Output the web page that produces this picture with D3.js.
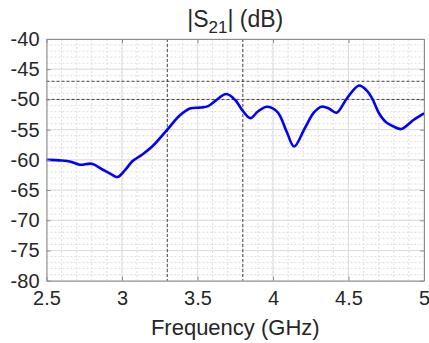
<!DOCTYPE html>
<html><head><meta charset="utf-8">
<script src="https://cdn.jsdelivr.net/npm/d3@7"></script>
<style>body{margin:0;background:#fff}svg{display:block}text{font-family:"Liberation Sans",Arial,sans-serif;fill:#262626}</style>
</head><body><svg id="c" width="429" height="343"></svg>
<script>
const freq = [2.5,2.6,2.66,2.72,2.8,2.87,2.93,2.97,3.02,3.07,3.13,3.2,3.3,3.38,3.45,3.52,3.57,3.62,3.69,3.75,3.8,3.85,3.9,3.96,4.03,4.09,4.14,4.21,4.27,4.32,4.37,4.42,4.49,4.57,4.62,4.66,4.7,4.75,4.8,4.85,4.93,5.0];
const s21 = [-60.0,-60.1,-60.3,-60.8,-60.65,-61.6,-62.4,-62.85,-61.7,-60.2,-59.2,-57.8,-55.0,-52.7,-51.5,-51.35,-51.1,-50.2,-49.1,-50.1,-51.9,-53.1,-52.0,-51.2,-52.1,-55.3,-57.8,-54.8,-52.2,-51.2,-51.5,-52.2,-49.8,-47.7,-48.5,-50.0,-52.2,-53.8,-54.5,-54.9,-53.4,-52.3];
const xTicks = [2.5,3,3.5,4,4.5,5];
const yTicks = [-80,-75,-70,-65,-60,-55,-50,-45,-40];
const markerX = [3.3,3.8];
const markerY = [-47,-50];

const svg = d3.select("#c");
const L=46.5,R=424,T=39,B=280.7;
const x = d3.scaleLinear().domain([2.5,5]).range([L,R]);
const y = d3.scaleLinear().domain([-80,-40]).range([B,T]);
const g = svg.append("g");
const minorX = d3.range(25,51).map(v=>v/10);
const minorY = d3.range(-80,-39);
g.selectAll(".mx").data(minorX).join("line").attr("x1",d=>x(d)).attr("x2",d=>x(d)).attr("y1",T).attr("y2",B)
 .attr("stroke","#d6d6d6").attr("stroke-width",0.8).attr("stroke-dasharray","2,2");
g.selectAll(".my").data(minorY).join("line").attr("y1",d=>y(d)).attr("y2",d=>y(d)).attr("x1",L).attr("x2",R)
 .attr("stroke","#d6d6d6").attr("stroke-width",0.8).attr("stroke-dasharray","2,2");
g.selectAll(".gx").data(xTicks).join("line").attr("x1",d=>x(d)).attr("x2",d=>x(d)).attr("y1",T).attr("y2",B)
 .attr("stroke","#dcdcdc").attr("stroke-width",1);
g.selectAll(".gy").data(yTicks).join("line").attr("y1",d=>y(d)).attr("y2",d=>y(d)).attr("x1",L).attr("x2",R)
 .attr("stroke","#dcdcdc").attr("stroke-width",1);
g.selectAll(".vx").data(markerX).join("line").attr("x1",d=>x(d)).attr("x2",d=>x(d)).attr("y1",T).attr("y2",B)
 .attr("stroke","#333").attr("stroke-width",0.9).attr("stroke-dasharray","3,2");
g.selectAll(".vy").data(markerY).join("line").attr("y1",d=>y(d)).attr("y2",d=>y(d)).attr("x1",L).attr("x2",R)
 .attr("stroke","#333").attr("stroke-width",0.9).attr("stroke-dasharray","3,2");
const pts = freq.map((f,i)=>[f,s21[i]]);
g.append("path").datum(pts).attr("fill","none").attr("stroke","#0000ff").attr("stroke-width",2.6)
 .attr("d",d3.line().x(d=>x(d[0])).y(d=>y(d[1])).curve(d3.curveCatmullRom.alpha(0.5)));
const fmt = d=>String(d);
const ax = svg.append("g").attr("transform",`translate(0,${B})`).call(d3.axisBottom(x).tickValues(xTicks).tickSizeInner(-4).tickSizeOuter(0).tickPadding(10).tickFormat(fmt));
const ay = svg.append("g").attr("transform",`translate(${L},0)`).call(d3.axisLeft(y).tickValues(yTicks).tickSizeInner(-4).tickSizeOuter(0).tickPadding(7).tickFormat(fmt));
const at = svg.append("g").attr("transform",`translate(0,${T})`).call(d3.axisTop(x).tickValues(xTicks).tickSizeInner(-4).tickSizeOuter(0).tickFormat(""));
const ar = svg.append("g").attr("transform",`translate(${R},0)`).call(d3.axisRight(y).tickValues(yTicks).tickSizeInner(-4).tickSizeOuter(0).tickFormat(""));
[ax,ay,at,ar].forEach(a=>{a.selectAll("path").attr("stroke","#8c8c8c");a.selectAll("line").attr("stroke","#8c8c8c");
 a.selectAll("text").attr("font-size",20).attr("fill","#262626").style("font-family","'Liberation Sans',Arial,sans-serif");});
ax.selectAll("text").attr("dy","0.71em");
svg.append("text").attr("x",(L+R)/2).attr("y",335).attr("text-anchor","middle").attr("font-size",22).text("Frequency (GHz)");
const t = svg.append("text").attr("x",(L+R)/2).attr("y",27).attr("text-anchor","middle").attr("font-size",23);
t.append("tspan").text("|S");
t.append("tspan").attr("font-size",17).attr("dy",6).text("21");
t.append("tspan").attr("dy",-6).text("| (dB)");
</script></body></html>
